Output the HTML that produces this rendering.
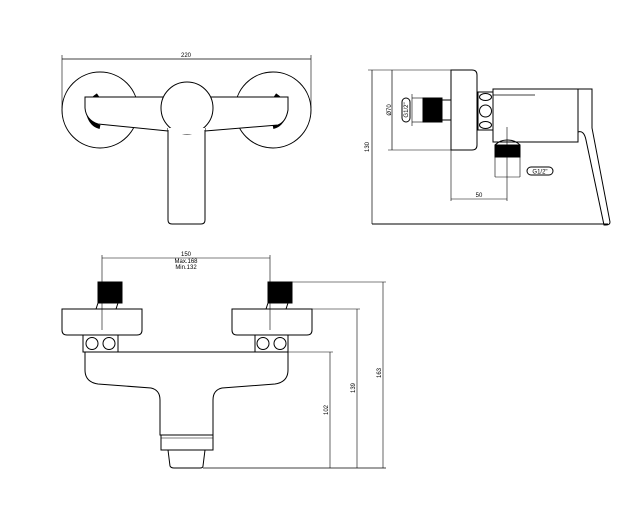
<!DOCTYPE html>
<html><head><style>
body{margin:0;background:#fff}
svg{display:block}
text{font-family:"Liberation Sans",sans-serif;font-size:6px;fill:#000}
</style></head><body>
<svg width="636" height="519" viewBox="0 0 636 519" xmlns="http://www.w3.org/2000/svg">
<g fill="none" stroke="#000" stroke-width="1">
<!-- FRONT VIEW TOP -->
<line x1="62" y1="59" x2="311" y2="59" stroke-width="0.7"/>
<line x1="62" y1="55" x2="62" y2="108" stroke-width="0.6"/>
<line x1="311" y1="55" x2="311" y2="108" stroke-width="0.6"/>
<circle cx="100" cy="110" r="38"/>
<circle cx="273" cy="110" r="38"/>
<path d="M98,95 q-12,8 -10,18 q3,12 12,14" stroke-width="4"/>
<path d="M275,95 q12,8 10,18 q-3,12 -12,14" stroke-width="4"/>
<path d="M85,97 L288,97 L288,110 Q286,122 278,125 L205,131 L168,131 L98,124 Q86,120 85,108 Z" fill="#fff"/>
<path d="M168,128 L168,220 Q168,224 172,224 L201,224 Q205,224 205,220 L205,128" fill="#fff"/>
<circle cx="187" cy="108" r="26" fill="#fff"/>
<rect x="168" y="128" width="37" height="6" fill="#fff" stroke="none"/>
<path d="M168,130 L168,136 M205,130 L205,136"/>
<!-- SIDE VIEW -->
<line x1="372" y1="70" x2="372" y2="224" stroke-width="0.7"/>
<line x1="368" y1="70" x2="451" y2="70" stroke-width="0.6"/>
<line x1="372" y1="224" x2="608" y2="224"/>
<line x1="392" y1="70" x2="392" y2="150" stroke-width="0.7"/>
<line x1="388" y1="150" x2="451" y2="150" stroke-width="0.6"/>
<path d="M451,70 L472,70 Q477,70 477,75 L477,145 Q477,150 472,150 L451,150 Z"/>
<rect x="423" y="98" width="19" height="24" fill="#000"/>
<path d="M442,100 L451,100 M442,120 L451,120" />
<line x1="412" y1="94" x2="412" y2="126" stroke-width="0.6"/>
<line x1="412" y1="98" x2="423" y2="98" stroke-width="0.6"/>
<line x1="412" y1="122" x2="423" y2="122" stroke-width="0.6"/>
<rect x="402" y="98" width="8" height="24" rx="4"/>
<rect x="478" y="92" width="15" height="38"/>
<ellipse cx="485.5" cy="97" rx="6" ry="3.5"/>
<ellipse cx="485.5" cy="111" rx="6" ry="6"/>
<ellipse cx="485.5" cy="125" rx="6" ry="3.5"/>
<rect x="493" y="89" width="85" height="53"/>
<line x1="493" y1="95" x2="535" y2="95" stroke-width="0.7"/>
<path d="M578,89 L592,89 L592,128 L610,222 Q610,225 606,225 L604,225 L586,140 Q584,130 578,132"/>
<path d="M495,145 Q500,140 507,140 Q515,140 520,145"/>
<rect x="495" y="145" width="25" height="12" fill="#000"/>
<line x1="495" y1="157" x2="495" y2="177" stroke-width="0.6"/>
<line x1="520" y1="157" x2="520" y2="177" stroke-width="0.6"/>
<line x1="495" y1="177" x2="520" y2="177" stroke-width="0.6"/>
<rect x="527" y="167" width="26" height="8" rx="4"/>
<line x1="507" y1="127" x2="507" y2="201" stroke-width="0.6"/>
<line x1="451" y1="150" x2="451" y2="201" stroke-width="0.6"/>
<line x1="451" y1="199" x2="507" y2="199" stroke-width="0.6"/>
<!-- BOTTOM FRONT VIEW -->
<line x1="102" y1="258" x2="270" y2="258" stroke-width="0.6"/>
<line x1="102" y1="255" x2="102" y2="330" stroke-width="0.6"/>
<line x1="270" y1="255" x2="270" y2="330" stroke-width="0.6"/>
<rect x="98" y="282" width="24" height="21" fill="#000"/>
<rect x="268" y="282" width="24" height="21" fill="#000"/>
<path d="M98,303 L96,309 M118,303 L116,309 M268,303 L266,309 M288,303 L286,309"/>
<path d="M62,309 L142,309 L142,330 Q142,335 137,335 L67,335 Q62,335 62,330 Z"/>
<path d="M232,309 L312,309 L312,330 Q312,335 307,335 L237,335 Q232,335 232,330 Z"/>
<rect x="83" y="335" width="35" height="17"/>
<circle cx="92" cy="343.5" r="6"/><circle cx="109" cy="343.5" r="6"/>
<rect x="255" y="335" width="33" height="17"/>
<circle cx="263" cy="343.5" r="6"/><circle cx="280" cy="343.5" r="6"/>
<path d="M85,352 L288,352 L288,370 Q288,382 275,384 L222,388 Q213,390 213,400 L213,435 L160,435 L160,400 Q160,390 151,388 L98,384 Q85,382 85,370 Z" fill="#fff"/>
<rect x="161" y="435" width="52" height="15" fill="#fff"/>
<line x1="161" y1="438" x2="213" y2="438" stroke-width="0.6"/>
<path d="M168,450 L170,466 Q171,468 174,468 L200,468 Q203,468 203,466 L205,450"/>
<line x1="292" y1="282" x2="386" y2="282" stroke-width="0.6"/>
<line x1="383" y1="282" x2="383" y2="468" stroke-width="0.6"/>
<line x1="312" y1="309" x2="360" y2="309" stroke-width="0.6"/>
<line x1="357" y1="309" x2="357" y2="468" stroke-width="0.6"/>
<line x1="288" y1="352" x2="333" y2="352" stroke-width="0.6"/>
<line x1="330" y1="352" x2="330" y2="468" stroke-width="0.6"/>
<line x1="203" y1="468" x2="386" y2="468" stroke-width="0.7"/>
</g>
<text x="186" y="57" text-anchor="middle" font-size="5">220</text>
<text transform="translate(369,147) rotate(-90)" text-anchor="middle" font-size="5">130</text>
<text transform="translate(391,110) rotate(-90)" text-anchor="middle" font-size="5">Ø70</text>
<text transform="translate(408,110) rotate(-90)" text-anchor="middle" font-size="5">G1/2"</text>
<text x="540" y="173.5" text-anchor="middle" font-size="5">G1/2"</text>
<text x="479" y="197" text-anchor="middle" font-size="5">50</text>
<text x="186" y="256" text-anchor="middle" font-size="5">150</text>
<text x="186" y="263" text-anchor="middle" font-size="5">Max.168</text>
<text x="186" y="269" text-anchor="middle" font-size="5">Min.132</text>
<text transform="translate(328,410) rotate(-90)" text-anchor="middle" font-size="5">102</text>
<text transform="translate(355,388) rotate(-90)" text-anchor="middle" font-size="5">139</text>
<text transform="translate(381,373) rotate(-90)" text-anchor="middle" font-size="5">163</text>
</svg>
</body></html>
